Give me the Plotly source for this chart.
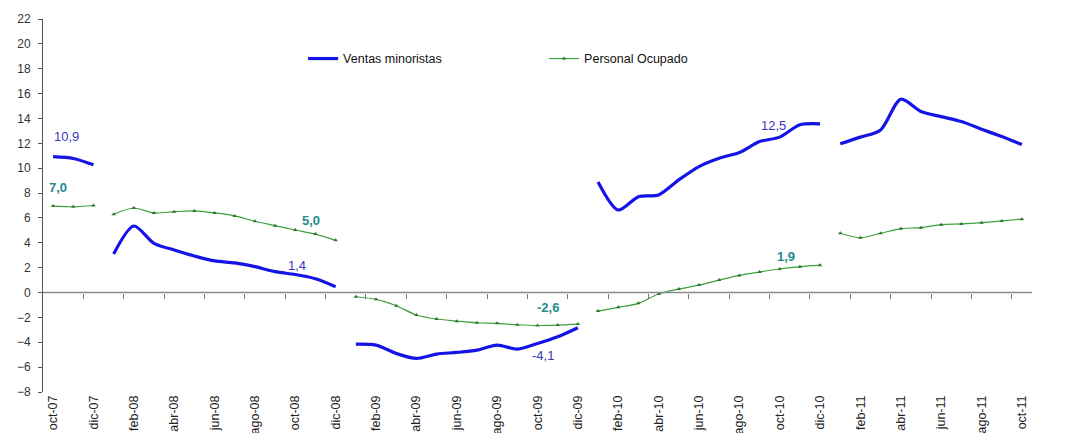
import plotly.graph_objects as go

months = ["oct-07", "nov-07", "dic-07",
          "ene-08", "feb-08", "mar-08", "abr-08", "may-08", "jun-08", "jul-08", "ago-08", "sep-08", "oct-08", "nov-08", "dic-08",
          "ene-09", "feb-09", "mar-09", "abr-09", "may-09", "jun-09", "jul-09", "ago-09", "sep-09", "oct-09", "nov-09", "dic-09",
          "ene-10", "feb-10", "mar-10", "abr-10", "may-10", "jun-10", "jul-10", "ago-10", "sep-10", "oct-10", "nov-10", "dic-10",
          "ene-11", "feb-11", "mar-11", "abr-11", "may-11", "jun-11", "jul-11", "ago-11", "sep-11", "oct-11"]

# segments by year (lines are broken at each year change)
ventas_2007 = [10.93, 10.78, 10.27]
ventas_2008 = [3.1, 5.35, 3.96, 3.42, 2.94, 2.54, 2.38, 2.08, 1.68, 1.45, 1.11, 0.47]
ventas_2009 = [-4.15, -4.23, -4.9, -5.3, -4.95, -4.82, -4.63, -4.23, -4.55, -4.1, -3.56, -2.83]
ventas_2010 = [8.9, 6.64, 7.71, 7.85, 9.06, 10.13, 10.8, 11.26, 12.14, 12.5, 13.49, 13.57]
ventas_2011 = [11.96, 12.5, 13.08, 15.55, 14.56, 14.15, 13.75, 13.14, 12.54, 11.9]

personal_2007 = [6.95, 6.9, 7.0]
personal_2008 = [6.3, 6.8, 6.4, 6.5, 6.56, 6.4, 6.16, 5.73, 5.38, 5.03, 4.7, 4.2]
personal_2009 = [-0.34, -0.55, -1.06, -1.81, -2.13, -2.3, -2.43, -2.48, -2.59, -2.65, -2.62, -2.54]
personal_2010 = [-1.49, -1.19, -0.87, -0.12, 0.28, 0.6, 1.0, 1.38, 1.65, 1.89, 2.08, 2.2]
personal_2011 = [4.77, 4.41, 4.77, 5.14, 5.22, 5.46, 5.52, 5.62, 5.76, 5.9]

tick_labels = months[::2]

# data labels: (month, text)
ventas_labels = [("oct-07", "10,9"), ("oct-08", "1,4"), ("oct-09", "-4,1"), ("oct-10", "12,5"), ("oct-11", "11,9")]
personal_labels = [("oct-07", "7,0"), ("oct-08", "5,0"), ("oct-09", "-2,6"), ("oct-10", "1,9"), ("oct-11", "5,9")]


def join_segments(segments):
    xs, ys = [], []
    start = 0
    for seg in segments:
        if xs:
            xs.append(None)
            ys.append(None)
        xs.extend(range(start, start + len(seg)))
        ys.extend(seg)
        start += len(seg)
    return xs, ys


vx, vy = join_segments([ventas_2007, ventas_2008, ventas_2009, ventas_2010, ventas_2011])
px_, py_ = join_segments([personal_2007, personal_2008, personal_2009, personal_2010, personal_2011])

BLUE = "#1414e6"
GREEN = "#3f9f3f"
LBL_BLUE = "#3a36c0"
LBL_TEAL = "#1f8b8b"
FONT = "Liberation Sans, Arial, sans-serif"

fig = go.Figure()
fig.add_trace(go.Scatter(
    x=vx, y=vy, mode="lines", name="Ventas minoristas",
    line=dict(color=BLUE, width=3.2, shape="spline", smoothing=0.8),
    connectgaps=False))
fig.add_trace(go.Scatter(
    x=px_, y=py_, mode="lines+markers", name="Personal Ocupado",
    line=dict(color=GREEN, width=1.2, shape="spline", smoothing=0.8),
    marker=dict(symbol="triangle-up", size=4, color="#2a7a2a"),
    connectgaps=False))

# category axis line crossing at y=0
fig.add_trace(go.Scatter(x=[-0.5, 48.5], y=[0, 0], mode="lines",
                         line=dict(color="#8c8c8c", width=1.5),
                         showlegend=False, hoverinfo="skip", xaxis="x2"))

all_v = ventas_2007 + ventas_2008 + ventas_2009 + ventas_2010 + ventas_2011
all_p = personal_2007 + personal_2008 + personal_2009 + personal_2010 + personal_2011
v_offsets = {"oct-07": (0.65, 20), "oct-08": (0.1, 9), "oct-09": (0.25, -12), "oct-10": (-0.3, 12), "oct-11": (1.4, 0)}
p_offsets = {"oct-07": (0.25, 19), "oct-08": (0.78, 9), "oct-09": (0.5, 18), "oct-10": (0.3, 13), "oct-11": (1.1, 0)}
for m, t in ventas_labels:
    i = months.index(m)
    dx, dy = v_offsets[m]
    fig.add_annotation(x=i + dx, y=all_v[i], text=t, showarrow=False, yshift=dy,
                       font=dict(family=FONT, size=13, color=LBL_BLUE))
for m, t in personal_labels:
    i = months.index(m)
    dx, dy = p_offsets[m]
    fig.add_annotation(x=i + dx, y=all_p[i], text="<b>" + t + "</b>", showarrow=False, yshift=dy,
                       font=dict(family=FONT, size=13, color=LBL_TEAL))

# cropped title fragment at top-left
fig.add_annotation(xref="paper", yref="paper", x=0.007, y=1.0, yshift=9, text=")", showarrow=False,
                   font=dict(family=FONT, size=20, color="#222"),
                   xanchor="center", yanchor="bottom")

# the page body has an 8px margin, so the figure is shrunk by 8px and margins adjusted
fig.update_layout(
    width=1059, height=425,
    margin=dict(l=35, r=35, t=11, b=41, autoexpand=False),
    paper_bgcolor="white", plot_bgcolor="white",
    showlegend=True,
    legend=dict(orientation="h", x=0.263, y=0.893, xanchor="left", yanchor="middle",
                font=dict(family=FONT, size=12.5, color="#111"),
                itemwidth=30, entrywidth=196, bgcolor="rgba(0,0,0,0)"),
    xaxis=dict(range=[-0.5, 48.5], tickvals=list(range(0, 49, 2)), ticktext=tick_labels,
               tickangle=-90, showgrid=False, zeroline=False, showline=False, ticks="",
               automargin=False,
               tickfont=dict(family="Liberation Sans Narrow, Arial Narrow, sans-serif", size=12.5, color="#222")),
    xaxis2=dict(range=[-0.5, 48.5], overlaying="x", anchor="free", position=8 / 30,
                showline=False, ticks="outside", ticklen=5, tickcolor="#777",
                tickvals=[k + 0.5 for k in range(1, 48, 2)], showticklabels=False,
                showgrid=False, zeroline=False, automargin=False),
    yaxis=dict(range=[-8, 22], dtick=2, showgrid=False, zeroline=False,
               showline=True, linecolor="#555", linewidth=1, ticks="outside", ticklen=4, tickcolor="#555",
               automargin=False, ticklabelstandoff=5,
               tickfont=dict(family=FONT, size=12, color="#333"),
               domain=[0, 1]),
)

fig.write_html("out.html")
